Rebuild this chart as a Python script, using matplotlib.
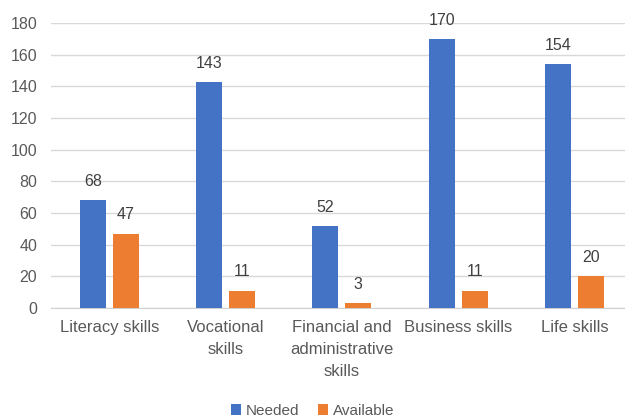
import numpy as np
import matplotlib.pyplot as plt

categories = ["Literacy skills", "Vocational\nskills", "Financial and\nadministrative\nskills",
              "Business skills", "Life skills"]
needed = [68, 143, 52, 170, 154]
available = [47, 11, 3, 11, 20]

plt.rcParams['font.family'] = ['Liberation Sans', 'DejaVu Sans']
grey = "#595959"

fig = plt.figure(figsize=(6.25, 4.19), dpi=100)
ax = fig.add_axes([0.082, 0.265, 0.93, 0.68])

x = np.arange(len(categories))
w = 0.225
b1 = ax.bar(x - 0.142, needed, w, color="#4472C4", label="Needed", zorder=3)
b2 = ax.bar(x + 0.142, available, w, color="#ED7D31", label="Available", zorder=3)

for bars in (b1, b2):
    for r in bars:
        ax.text(r.get_x() + r.get_width() / 2, r.get_height() + 7, str(int(r.get_height())),
                ha="center", va="bottom", fontsize=11.5, color="#404040")

ax.set_ylim(0, 180)
ax.set_xlim(-0.5, 4.5)
ax.set_yticks(range(0, 181, 20))
ax.set_xticks(x)
ax.set_xticklabels(categories, fontsize=12, color=grey, linespacing=1.55)
ax.tick_params(axis="y", labelsize=11.5, labelcolor=grey, length=0, pad=10)
ax.tick_params(axis="x", length=0, pad=9)
ax.grid(axis="y", color="#d9d9d9", linewidth=1, zorder=0)
for s in ["top", "right", "left"]:
    ax.spines[s].set_visible(False)
ax.spines["bottom"].set_color("#d0d0d0")

fig.legend(handles=[b1, b2], loc="lower center", bbox_to_anchor=(0.5, -0.03), ncol=2,
           frameon=False, fontsize=11, handlelength=0.7, handleheight=0.7,
           handletextpad=0.3, columnspacing=1.2, labelcolor=grey)

fig.savefig("out.png", dpi=100)
